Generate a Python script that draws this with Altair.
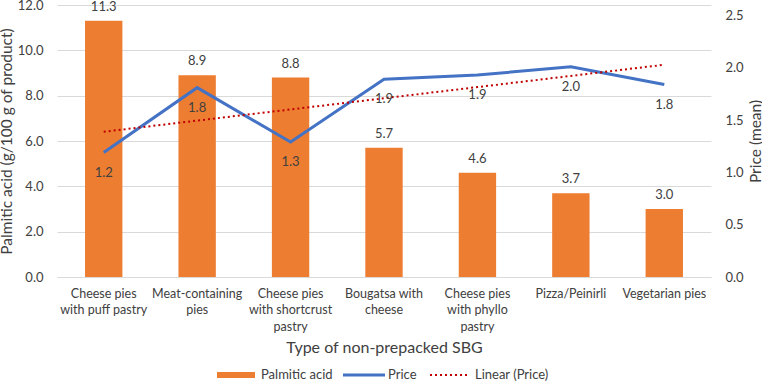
import altair as alt
import pandas as pd
import numpy as np

# Categories of non-prepacked savoury bakery goods ("|" marks a line break in the axis label)
categories = [
    "Cheese pies|with puff pastry",
    "Meat-containing|pies",
    "Cheese pies|with shortcrust|pastry",
    "Bougatsa with|cheese",
    "Cheese pies|with phyllo|pastry",
    "Pizza/Peinirli",
    "Vegetarian pies",
]
palmitic_acid = [11.3, 8.9, 8.8, 5.7, 4.6, 3.7, 3.0]
price_mean = [1.19, 1.81, 1.29, 1.89, 1.93, 2.01, 1.84]

left_ticks = [0, 2, 4, 6, 8, 10, 12]
right_ticks = [0, 0.5, 1.0, 1.5, 2.0, 2.5]

# Least-squares linear trend of price over category order
idx = np.arange(1, len(categories) + 1)
slope, intercept = np.polyfit(idx, price_mean, 1)
trend = slope * idx + intercept

df = pd.DataFrame({
    "cat": categories,
    "palmitic": palmitic_acid,
    "price": price_mean,
    "trend": trend,
})

FONT = "Lato"
ORANGE = "#ED7D31"
BLUE = "#4472C4"
RED = "#C00000"
TXT = "#404040"
GRID = "#D9D9D9"

x_enc = alt.X(
    "cat:N",
    sort=categories,
    scale=alt.Scale(paddingInner=0.6, paddingOuter=0.3),
    axis=alt.Axis(
        title="Type of non-prepacked SBG",
        labelExpr="split(datum.value, '|')",
        labelAngle=0,
        labelFontSize=12.5,
        labelColor=TXT,
        labelFont=FONT,
        labelPadding=10,
        labelLineHeight=16.5,
        ticks=False,
        domainColor=GRID,
        titleFont=FONT,
        titleFontSize=16,
        titleFontWeight="normal",
        titleColor=TXT,
        titlePadding=7,
    ),
)

base = alt.Chart(df).encode(x=x_enc)

y_left = alt.Y(
    "palmitic:Q",
    scale=alt.Scale(domain=[0, 12]),
    axis=alt.Axis(
        title="Palmitic acid (g/100 g of product)",
        values=left_ticks,
        format=".1f",
        grid=True,
        gridColor=GRID,
        domain=False,
        ticks=False,
        labelPadding=14,
        labelFontSize=13,
        labelColor=TXT,
        labelFont=FONT,
        titleFont=FONT,
        titleFontSize=15.5,
        titleFontWeight="normal",
        titleColor=TXT,
        titlePadding=3,
    ),
)

bars = base.mark_bar(color=ORANGE).encode(y=y_left)
bar_labels = base.mark_text(
    dy=-14, baseline="middle", fontSize=13, font=FONT, color=TXT
).encode(y=alt.Y("palmitic:Q"), text=alt.Text("palmitic:Q", format=".1f"))

left = alt.layer(bars, bar_labels)

y_right = alt.Y(
    "price:Q",
    scale=alt.Scale(domain=[0, 2.5]),
    axis=alt.Axis(
        title="Price (mean)",
        orient="right",
        values=right_ticks,
        format=".1f",
        grid=False,
        domain=False,
        ticks=False,
        labelPadding=14,
        labelFontSize=13,
        labelColor=TXT,
        labelFont=FONT,
        titleFont=FONT,
        titleFontSize=15.5,
        titleFontWeight="normal",
        titleColor=TXT,
        titleAngle=270,
        titlePadding=20,
    ),
)

price_line = base.mark_line(color=BLUE, strokeWidth=3).encode(y=y_right)
price_labels = base.mark_text(
    dy=20, baseline="middle", fontSize=13, font=FONT, color=TXT
).encode(y=alt.Y("price:Q"), text=alt.Text("price:Q", format=".1f"))
trend_line = base.mark_line(
    color=RED, strokeWidth=2, strokeDash=[2, 3]
).encode(y=alt.Y("trend:Q"))

right = alt.layer(price_line, trend_line, price_labels)

# Legend drawn below the plot
leg_labels = ["Palmitic acid", "Price", "Linear (Price)"]
leg = pd.DataFrame({"label": leg_labels})
leg_y = 370


def leg_item(name):
    return alt.Chart(leg).transform_filter(alt.datum.label == name)


leg_swatch = leg_item("Palmitic acid").mark_rect(color=ORANGE).encode(
    x=alt.value(160), x2=alt.value(198), y=alt.value(leg_y - 3), y2=alt.value(leg_y + 3)
)
leg_price = leg_item("Price").mark_rule(color=BLUE, strokeWidth=3).encode(
    x=alt.value(286), x2=alt.value(328), y=alt.value(leg_y)
)
leg_trend = leg_item("Linear (Price)").mark_rule(
    color=RED, strokeWidth=2, strokeDash=[2, 3]
).encode(x=alt.value(373), x2=alt.value(411), y=alt.value(leg_y))

text_x = {"Palmitic acid": 204, "Price": 331, "Linear (Price)": 418}
leg_texts = [
    leg_item(name).mark_text(
        align="left", baseline="middle", fontSize=13, font=FONT, color=TXT
    ).encode(text="label:N", x=alt.value(px), y=alt.value(leg_y))
    for name, px in text_x.items()
]
legend = alt.layer(leg_swatch, leg_price, leg_trend, *leg_texts)

chart = (
    alt.layer(left, right, legend)
    .resolve_scale(y="independent")
    .properties(
        width=654,
        height=272,
        autosize=alt.AutoSizeParams(type="none"),
        padding={"left": 57, "top": 5, "right": 51, "bottom": 104},
        background="white",
    )
    .configure_view(stroke=None)
)

chart.save("out.html", embed_options={"renderer": "svg", "actions": False})
